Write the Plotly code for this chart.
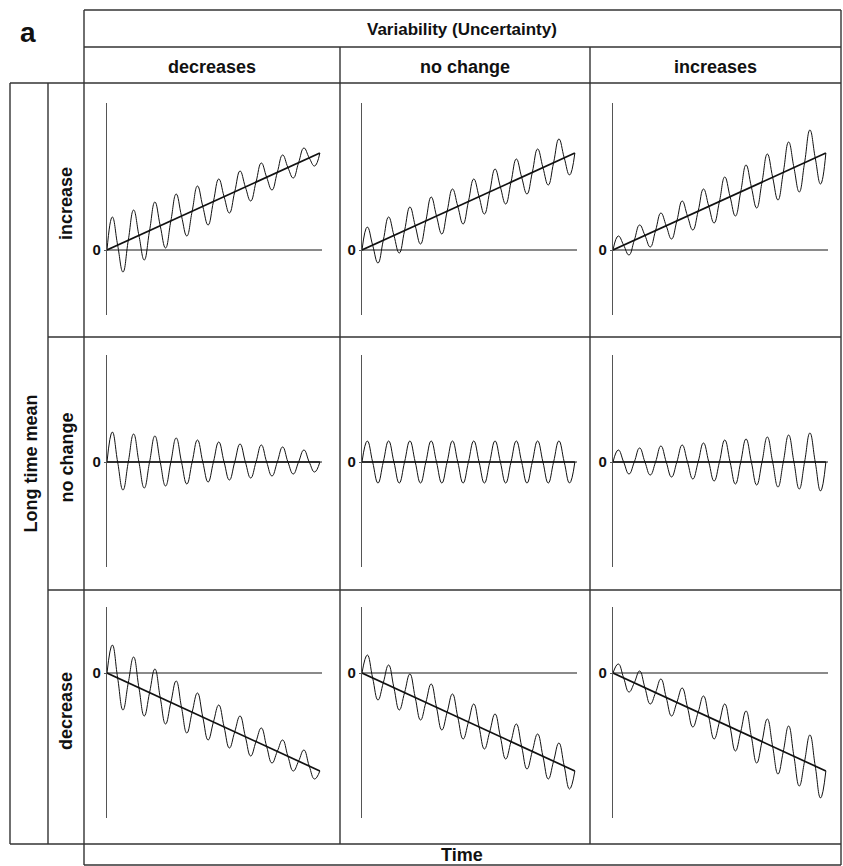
import plotly.graph_objects as go

W, H = 843, 866
FONT = "Liberation Sans, Arial, sans-serif"

# ---- labels -------------------------------------------------------------
col_labels = ["decreases", "no change", "increases"]
row_labels = ["increase", "no change", "decrease"]
top_title = "Variability (Uncertainty)"
side_title = "Long time mean"
bottom_title = "Time"

# ---- data (arbitrary units; one cycle per time unit, ten cycles) ----------
n_cycles = 10
trend_end = [97, 0, -98]          # long-time mean reached at the end, per row

# peaks and troughs of each cycle, keyed by (row, column)
peaks = {
    (0, 0): [33, 40, 48, 56, 64, 71, 79, 87, 95, 102],
    (0, 1): [23, 33, 43, 53, 61, 71, 81, 91, 101, 111],
    (0, 2): [14, 25, 37, 49, 61, 73, 85, 96, 108, 120],
    (1, 0): [30, 28, 26, 24, 22, 20, 18, 17, 15, 12],
    (1, 1): [21, 21, 21, 21, 21, 21, 21, 21, 21, 21],
    (1, 2): [12, 14, 16, 17, 19, 22, 23, 25, 27, 29],
    (2, 0): [28, 16, 4, -8, -20, -32, -43, -55, -67, -77],
    (2, 1): [18, 8, -1, -11, -21, -31, -41, -51, -61, -70],
    (2, 2): [9, 2, -6, -15, -23, -31, -38, -46, -53, -62],
}
troughs = {
    (0, 0): [-22, -10, 2, 14, 25, 37, 49, 60, 72, 84],
    (0, 1): [-13, -3, 6, 16, 26, 36, 46, 56, 65, 75],
    (0, 2): [-5, 3, 11, 20, 27, 34, 42, 50, 58, 66],
    (1, 0): [-28, -26, -24, -22, -20, -18, -16, -14, -12, -10],
    (1, 1): [-21, -21, -21, -21, -21, -21, -21, -21, -21, -21],
    (1, 2): [-12, -13, -15, -17, -19, -22, -23, -25, -27, -29],
    (2, 0): [-37, -43, -51, -60, -67, -75, -83, -90, -98, -106],
    (2, 1): [-27, -37, -47, -57, -66, -76, -86, -96, -106, -116],
    (2, 2): [-19, -31, -43, -54, -66, -78, -90, -101, -113, -125],
}

# vertical extent of each row's y axis (units)
y_ranges = [[-65, 147], [-105, 107], [-145, 66]]
x_range = [0, 10.1]

# ---- page geometry (pixels) -------------------------------------------
col_edges = [84, 340, 590, 841]
row_edges = [83, 337, 590, 844]
axis_x = [107, 362, 613]           # left edge of each panel's plot area
axis_w = 215
axis_top = [103, 355, 607]
axis_bot = [315, 567, 818]


def px(x):
    return x / W


def py(y):
    return 1 - y / H


fig = go.Figure()
layout_axes = {}


def curve_points(r, c):
    """Oscillation around the mean line: crossings, peaks and troughs."""
    slope = trend_end[r] / n_cycles
    t, y = [0.0], [0.0]
    for i in range(n_cycles):
        t += [i + 0.25, i + 0.5, i + 0.75, i + 1.0]
        y += [peaks[(r, c)][i], slope * (i + 0.5), troughs[(r, c)][i], slope * (i + 1.0)]
    return t, y


k = 0
for r in range(3):
    for c in range(3):
        k += 1
        xa = "x" if k == 1 else f"x{k}"
        ya = "y" if k == 1 else f"y{k}"
        xkey = "xaxis" if k == 1 else f"xaxis{k}"
        ykey = "yaxis" if k == 1 else f"yaxis{k}"

        layout_axes[xkey] = dict(
            domain=[px(axis_x[c]), px(axis_x[c] + axis_w)],
            range=x_range, anchor=ya, visible=False, fixedrange=True,
        )
        layout_axes[ykey] = dict(
            domain=[py(axis_bot[r]), py(axis_top[r])],
            range=y_ranges[r], anchor=xa,
            showline=True, linecolor="#555555", linewidth=1.3,
            showgrid=False, zeroline=True, zerolinecolor="#8a8a8a", zerolinewidth=2,
            tickmode="array", tickvals=[0], ticktext=["<b>0</b>"],
            ticks="outside", ticklen=2, tickcolor="#555555", tickwidth=1,
            tickfont=dict(family=FONT, size=15, color="#111111"),
            fixedrange=True,
        )

        # long-time mean (trend)
        fig.add_trace(go.Scatter(
            x=[0, n_cycles], y=[0, trend_end[r]], xaxis=xa, yaxis=ya,
            mode="lines", line=dict(color="#111111", width=1.7),
            hoverinfo="skip", showlegend=False,
        ))
        # oscillating signal
        t, y = curve_points(r, c)
        fig.add_trace(go.Scatter(
            x=t, y=y, xaxis=xa, yaxis=ya, mode="lines",
            line=dict(color="#111111", width=1.0, shape="spline", smoothing=1.3),
            hoverinfo="skip", showlegend=False,
        ))

# ---- table frame ------------------------------------------------------
LC = "#333333"
LW = 1.4
segments = [
    # header box
    (84, 10, 841, 10), (84, 47, 841, 47), (10, 83, 841, 83),
    (84, 10, 84, 865), (841, 10, 841, 865),
    (340, 47, 340, 844), (590, 47, 590, 844),
    # row separators
    (48, 337, 841, 337), (48, 590, 841, 590),
    # left label columns
    (10, 83, 10, 844), (48, 83, 48, 844),
    # bottom
    (10, 844, 841, 844), (84, 865, 841, 865),
]
shapes = [
    dict(type="line", xref="paper", yref="paper",
         x0=px(x0), y0=py(y0), x1=px(x1), y1=py(y1),
         line=dict(color=LC, width=LW))
    for x0, y0, x1, y1 in segments
]

annotations = []


def label(text, x, y, size=15, angle=0):
    annotations.append(dict(
        text=f"<b>{text}</b>", x=px(x), y=py(y), xref="paper", yref="paper",
        showarrow=False, xanchor="center", yanchor="middle", textangle=angle,
        font=dict(family=FONT, size=size, color="#111111"),
    ))


label("a", 28, 32, size=28)
label(top_title, (84 + 841) / 2, 30, size=17)
for c, name in enumerate(col_labels):
    label(name, (col_edges[c] + col_edges[c + 1]) / 2, 67, size=18)
for r, name in enumerate(row_labels):
    label(name, 66, (row_edges[r] + row_edges[r + 1]) / 2 - 6, size=18, angle=-90)
label(side_title, 30, (83 + 844) / 2, size=18, angle=-90)
label(bottom_title, (84 + 841) / 2, 855, size=18)

fig.update_layout(
    width=W, height=H,
    margin=dict(l=0, r=0, t=0, b=0),
    paper_bgcolor="white", plot_bgcolor="white",
    shapes=shapes, annotations=annotations,
    showlegend=False,
    **layout_axes,
)

fig.write_html("out.html")
